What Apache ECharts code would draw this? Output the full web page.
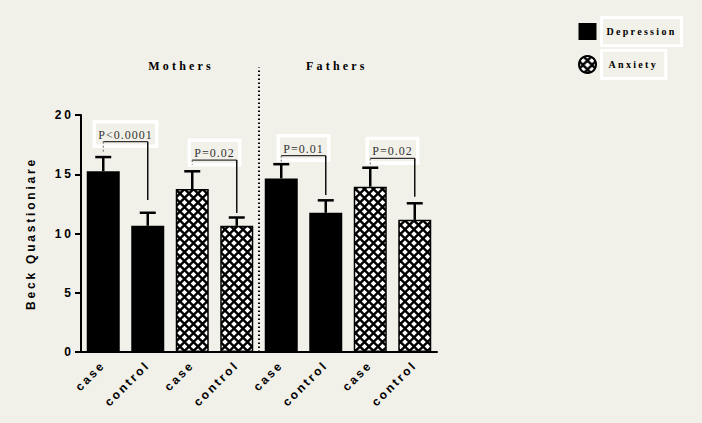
<!DOCTYPE html>
<html><head><meta charset="utf-8">
<script src="https://cdn.jsdelivr.net/npm/echarts@6/dist/echarts.min.js"></script>
<style>html,body{margin:0;padding:0;background:#f2f1e9}#c{width:702px;height:423px}</style>
</head><body><div id="c"></div>
<script>
// ---- data ----
const categories = ['case','control','case','control','case','control','case','control'];
const measures = ['Depression','Depression','Anxiety','Anxiety','Depression','Depression','Anxiety','Anxiety'];
const means = [15.25, 10.65, 13.75, 10.65, 14.65, 11.75, 13.95, 11.15];
const errorTops = [16.45, 11.75, 15.25, 11.35, 15.85, 12.8, 15.55, 12.55];
const groupNames = ['Mothers', 'Fathers'];
const dividerBetween = [3, 4];
const pLabels = ['P<0.0001', 'P=0.02', 'P=0.01', 'P=0.02'];
const pFrom = [0, 2, 4, 6];
const pTo = [1, 3, 5, 7];
const pLineY = [17.75, 16.2, 16.57, 16.34];
const pLeftEnd = [16.9, 15.8, 15.95, 15.8];
const pRightEnd = [12.83, 11.73, 13.25, 13.1];
const yName = 'Beck Quastioniare';

const BG = '#f2f1e9';

function makePattern() {
  const s = 9, c = document.createElement('canvas');
  c.width = s; c.height = s;
  const g = c.getContext('2d');
  g.fillStyle = '#000'; g.fillRect(0, 0, s, s);
  g.fillStyle = '#fff';
  const d = 2.8;
  [[4.5, 4.5], [0, 0], [9, 0], [0, 9], [9, 9]].forEach(([x, y]) => {
    g.beginPath(); g.moveTo(x, y - d); g.lineTo(x + d, y); g.lineTo(x, y + d); g.lineTo(x, y + d); g.lineTo(x - d, y); g.closePath(); g.fill();
  });
  return c.toDataURL();
}
const patternFill = { image: makePattern(), repeat: 'repeat', imageWidth: 9, imageHeight: 9 };

const depData = means.map((v, i) => measures[i] === 'Depression' ? v : '-');
const anxData = means.map((v, i) => measures[i] === 'Anxiety' ? v : '-');
const errData = means.map((v, i) => [i, v, errorTops[i]]);
const pData = pLabels.map((l, i) => [pFrom[i], pTo[i], pLineY[i], pLeftEnd[i], pRightEnd[i]]);

const sansBold = { fontFamily: 'Liberation Sans', fontWeight: 'bold', fontSize: 12, color: '#000' };

const chart = echarts.init(document.getElementById('c'), null, { renderer: 'svg' });
const option = {
  backgroundColor: BG,
  animation: false,
  grid: { left: 81, right: 265, top: 115, bottom: 71 },
  xAxis: {
    type: 'category', data: categories,
    axisLine: { lineStyle: { color: '#000', width: 2 } },
    axisTick: { alignWithLabel: true, length: 7, lineStyle: { color: '#000', width: 2 } },
    axisLabel: Object.assign({ rotate: 45, margin: 11, interval: 0 }, sansBold)
  },
  yAxis: {
    type: 'value', min: 0, max: 20, interval: 5,
    name: yName, nameLocation: 'middle', nameGap: 44, nameRotate: 90,
    nameTextStyle: sansBold,
    axisLine: { show: true, lineStyle: { color: '#000', width: 2 } },
    axisTick: { show: true, length: 6, lineStyle: { color: '#000', width: 2 } },
    splitLine: { show: false },
    axisLabel: Object.assign({ margin: 7 }, sansBold)
  },
  legend: {
    orient: 'vertical', left: 578, top: 16, padding: 0, itemWidth: 18, itemHeight: 17, itemGap: 2,
    selectedMode: false,
    textStyle: { fontFamily: 'Liberation Serif', fontWeight: 'bold', fontSize: 10, color: '#000',
      borderColor: '#fff', borderWidth: 3, lineHeight: 12 },
    data: [
      { name: 'Depression', icon: 'rect', textStyle: { padding: [8, 28, 8, 5] } },
      { name: 'Anxiety', icon: 'circle', textStyle: { padding: [8, 24, 8, 7] } }
    ]
  },
  series: [
    { name: 'Depression', type: 'bar', data: depData, barWidth: 33, barGap: '-100%',
      itemStyle: { color: '#000' } },
    { name: 'Anxiety', type: 'bar', data: anxData, barWidth: 33, barGap: '-100%',
      itemStyle: { color: patternFill, borderColor: '#000', borderWidth: 1.5 } },
    { type: 'custom', name: 'err', data: errData, z: 5,
      renderItem: (params, api) => {
        const i = api.value(0);
        const b = api.coord([i, api.value(1)]);
        const t = api.coord([i, api.value(2)]);
        const hw = 8;
        return { type: 'group', children: [
          { type: 'line', shape: { x1: b[0], y1: b[1], x2: t[0], y2: t[1] }, style: { stroke: '#000', lineWidth: 2.5 } },
          { type: 'line', shape: { x1: t[0] - hw, y1: t[1], x2: t[0] + hw, y2: t[1] }, style: { stroke: '#000', lineWidth: 2.5 } }
        ] };
      } },
    { type: 'custom', name: 'brackets', data: pData, z: 6,
      renderItem: (params, api) => {
        const f = api.value(0), to = api.value(1);
        const a = api.coord([f, api.value(2)]);
        const b = api.coord([to, api.value(2)]);
        const la = api.coord([f, api.value(3)]);
        const rb = api.coord([to, api.value(4)]);
        const cx = (a[0] + b[0]) / 2;
        return { type: 'group', children: [
          { type: 'text', x: cx, y: a[1] + 4.6, style: {
              text: pLabels[params.dataIndex], fill: '#333', font: '12px "Liberation Serif"',
              align: 'center', verticalAlign: 'bottom', padding: [7, 8, 5.5, 8],
              borderColor: '#fff', borderWidth: 3.5 } },
          { type: 'line', shape: { x1: a[0], y1: a[1], x2: b[0], y2: b[1] }, style: { stroke: '#333', lineWidth: 1.2 } },
          { type: 'line', shape: { x1: a[0], y1: a[1], x2: la[0], y2: la[1] }, style: { stroke: '#666', lineWidth: 1, lineDash: [2, 2] } },
          { type: 'line', shape: { x1: b[0], y1: b[1], x2: rb[0], y2: rb[1] }, style: { stroke: '#111', lineWidth: 1.5 } }
        ] };
      } },
    { type: 'custom', name: 'divider', data: [[dividerBetween[0], dividerBetween[1]]], z: 4,
      renderItem: (params, api) => {
        const p0 = api.coord([api.value(0), 0]);
        const p1 = api.coord([api.value(1), 0]);
        const x = (p0[0] + p1[0]) / 2;
        const top = api.coord([api.value(0), 24]);
        const first = api.coord([0, 24]);
        const last = api.coord([categories.length - 1, 24]);
        const ty = top[1] - 2;
        const tstyle = { fill: '#000', font: 'bold 12px "Liberation Serif"', align: 'center', verticalAlign: 'middle' };
        return { type: 'group', children: [
          { type: 'line', shape: { x1: x, y1: p0[1], x2: x, y2: top[1] }, style: { stroke: '#000', lineWidth: 2, lineDash: [1.5, 2.5] } },
          { type: 'text', x: (first[0] + x) / 2, y: ty, style: Object.assign({ text: groupNames[0] }, tstyle) },
          { type: 'text', x: (x + last[0]) / 2, y: ty, style: Object.assign({ text: groupNames[1] }, tstyle) }
        ] };
      } }
  ]
};
chart.setOption(option);

function applySpacing() {
  const map = { '0': 3, '5': 3, '10': 3, '15': 3, '20': 3, 'case': 2.5, 'control': 2.5,
    'Mothers': 3.2, 'Fathers': 3.2, 'Depression': 2.3, 'Anxiety': 2.3 };
  map[yName] = 2.8;
  document.querySelectorAll('#c svg text').forEach(t => {
    const s = t.textContent.trim();
    let ls = null;
    if (map[s] != null) ls = map[s];
    else if (/^P[<=]/.test(s)) ls = 1;
    if (ls != null) { t.setAttribute('letter-spacing', ls + 'px'); t.style.letterSpacing = ls + 'px'; }
  });
}
applySpacing();
chart.on('finished', applySpacing);
setTimeout(applySpacing, 50);
</script>
</body></html>
